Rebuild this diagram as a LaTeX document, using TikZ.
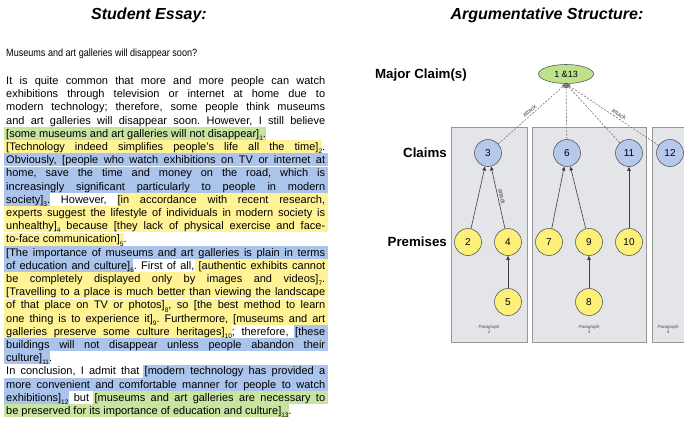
\documentclass[tikz,border=0pt]{standalone}
\usepackage{graphicx}
\usepackage{fontspec}
\setmainfont{Liberation Sans}
\usetikzlibrary{arrows.meta,shapes.geometric}
\frenchspacing
\definecolor{hlY}{RGB}{255,243,150}
\definecolor{hlB}{RGB}{170,196,236}
\definecolor{hlG}{RGB}{200,228,160}
\definecolor{boxfill}{RGB}{228,229,232}
\definecolor{boxline}{RGB}{150,150,150}
\definecolor{claimfill}{RGB}{182,200,235}
\definecolor{premfill}{RGB}{252,240,120}
\definecolor{mcfill}{RGB}{190,225,140}
\definecolor{nodeline}{RGB}{90,90,90}
\newcommand\sbx[1]{\raisebox{-0.3em}{\fontsize{6.5}{7}\selectfont #1}}
\newsavebox\jlbox
\newcommand\jl[1]{\sbox\jlbox{#1}\ifdim\wd\jlbox>319pt \resizebox{319pt}{\height}{\usebox\jlbox}\else\makebox[319pt][s]{#1}\fi}
\tikzset{
  essay/.style={anchor=base west, inner sep=0pt, font=\fontsize{11}{13}\selectfont\frenchspacing},
  essayq/.style={anchor=base west, inner sep=0pt, font=\fontsize{10.5}{12}\selectfont},
  titlelab/.style={font=\fontsize{16}{19}\selectfont\bfseries\itshape, inner sep=0pt},
  rowlab/.style={font=\fontsize{13.3}{15}\selectfont\bfseries, inner sep=0pt, anchor=east},
  claimnode/.style={circle, draw=nodeline, line width=0.6pt, fill=claimfill, minimum size=27pt, inner sep=0pt, font=\fontsize{10}{12}\selectfont},
  premnode/.style={circle, draw=nodeline, line width=0.6pt, fill=premfill, minimum size=27pt, inner sep=0pt, font=\fontsize{10}{12}\selectfont},
  mcnode/.style={ellipse, draw=nodeline, line width=0.6pt, fill=mcfill, minimum width=55pt, minimum height=19pt, inner sep=0pt, font=\fontsize{9}{11}\selectfont},
  parbox/.style={draw=boxline, fill=boxfill, line width=0.6pt},
  parlab/.style={font=\fontsize{4.5}{5}\selectfont\itshape, align=center, inner sep=0pt, text=black!70},
  supp/.style={draw=black!75, line width=0.6pt, -{Triangle[length=4pt,width=3.5pt]}},
  atk/.style={draw=black!55, line width=0.6pt, dash pattern=on 2pt off 1.5pt, -{Triangle[length=4pt,width=3.5pt]}},
  atklab/.style={font=\fontsize{6}{7}\selectfont, inner sep=1.5pt, text=black!70}
}
\begin{document}
\begin{tikzpicture}[x=1pt,y=-1pt]
\useasboundingbox (0,0) rectangle (684,424);
\fill[white] (0,0) rectangle (684,424);
% ---------- highlights ----------
\fill[hlG] (4,126.9) rectangle (266,139.9);
\fill[hlY] (4,140.1) rectangle (322,153.1);
\fill[hlB] (4,153.3) rectangle (328,166.3);
\fill[hlB] (4,166.5) rectangle (328,179.5);
\fill[hlB] (4,179.7) rectangle (328,192.7);
\fill[hlB] (4,192.9) rectangle (50,205.9);
\fill[hlY] (117,192.9) rectangle (328,205.9);
\fill[hlY] (4,206.1) rectangle (328,219.1);
\fill[hlY] (4,219.3) rectangle (328,232.3);
\fill[hlY] (4,232.5) rectangle (124,245.5);
\fill[hlB] (4,245.7) rectangle (328,258.7);
\fill[hlB] (4,258.9) rectangle (133,271.9);
\fill[hlY] (195,258.9) rectangle (328,271.9);
\fill[hlY] (4,272.1) rectangle (328,285.1);
\fill[hlY] (4,285.3) rectangle (328,298.3);
\fill[hlY] (4,298.5) rectangle (328,311.5);
\fill[hlY] (4,311.7) rectangle (328,324.7);
\fill[hlY] (4,324.9) rectangle (232,337.9);
\fill[hlB] (294,324.9) rectangle (328,337.9);
\fill[hlB] (4,338.1) rectangle (328,351.1);
\fill[hlB] (4,351.3) rectangle (50,364.3);
\fill[hlB] (143,364.5) rectangle (328,377.5);
\fill[hlB] (4,377.7) rectangle (328,390.7);
\fill[hlB] (4,390.9) rectangle (69,403.9);
\fill[hlG] (93,390.9) rectangle (328,403.9);
\fill[hlG] (4,404.1) rectangle (289,417.1);
% ---------- essay ----------
\node[titlelab] (t1) at (149,15) {Student Essay:};
\node[essayq] (l0) at (6,56.3) {\resizebox{191pt}{\height}{Museums and art galleries will disappear soon?}};
\node[essay] (l1) at (6,84.4) {\jl{It is quite common that more and more people can watch}};
\node[essay] (l2) at (6,97.6) {\jl{exhibitions through television or internet at home due to}};
\node[essay] (l3) at (6,110.8) {\jl{modern technology; therefore, some people think museums}};
\node[essay] (l4) at (6,124.0) {\jl{and art galleries will disappear soon. However, I still believe}};
\node[essay] (l5) at (6,137.2) {[some museums and art galleries will not disappear]\sbx{1}.};
\node[essay] (l6) at (6,150.4) {\jl{[Technology indeed simplifies people's life all the time]\sbx{2}.}};
\node[essay] (l7) at (6,163.6) {\jl{Obviously, [people who watch exhibitions on TV or internet at}};
\node[essay] (l8) at (6,176.8) {\jl{home, save the time and money on the road, which is}};
\node[essay] (l9) at (6,190.0) {\jl{increasingly significant particularly to people in modern}};
\node[essay] (l10) at (6,203.2) {\jl{society]\sbx{3}. However, [in accordance with recent research,}};
\node[essay] (l11) at (6,216.4) {\jl{experts suggest the lifestyle of individuals in modern society is}};
\node[essay] (l12) at (6,229.6) {\jl{unhealthy]\sbx{4} because [they lack of physical exercise and face-}};
\node[essay] (l13) at (6,242.8) {to-face communication]\sbx{5}.};
\node[essay] (l14) at (6,256.0) {\jl{[The importance of museums and art galleries is plain in terms}};
\node[essay] (l15) at (6,269.2) {\jl{of education and culture]\sbx{6}. First of all, [authentic exhibits cannot}};
\node[essay] (l16) at (6,282.4) {\jl{be completely displayed only by images and videos]\sbx{7}.}};
\node[essay] (l17) at (6,295.6) {\jl{[Travelling to a place is much better than viewing the landscape}};
\node[essay] (l18) at (6,308.8) {\jl{of that place on TV or photos]\sbx{8}, so [the best method to learn}};
\node[essay] (l19) at (6,322.0) {\jl{one thing is to experience it]\sbx{9}. Furthermore, [museums and art}};
\node[essay] (l20) at (6,335.2) {\jl{galleries preserve some culture heritages]\sbx{10}; therefore, [these}};
\node[essay] (l21) at (6,348.4) {\jl{buildings will not disappear unless people abandon their}};
\node[essay] (l22) at (6,361.6) {culture]\sbx{11}.};
\node[essay] (l23) at (6,374.8) {\jl{In conclusion, I admit that [modern technology has provided a}};
\node[essay] (l24) at (6,388.0) {\jl{more convenient and comfortable manner for people to watch}};
\node[essay] (l25) at (6,401.2) {\jl{exhibitions]\sbx{12} but [museums and art galleries are necessary to}};
\node[essay] (l26) at (6,414.4) {be preserved for its importance of education and culture]\sbx{13}.};
% ---------- structure ----------
\node[titlelab] (t2) at (547,15) {Argumentative Structure:};
\draw[parbox] (451,127) rectangle (527,342);
\draw[parbox] (532,127) rectangle (646,342);
\draw[parbox] (652,127) rectangle (700,342);
\node[parlab] (pg2) at (489,329) {Paragraph\\2};
\node[parlab] (pg3) at (589,329) {Paragraph\\3};
\node[parlab] (pg4) at (668,329) {Paragraph\\4};
\node[rowlab] (rmc) at (467,75) {Major Claim(s)};
\node[rowlab] (rcl) at (447,153) {Claims};
\node[rowlab] (rpr) at (447,242) {Premises};
\node[mcnode] (mc) at (566,74) {1 \&13};
\node[claimnode] (n3) at (488,153) {3};
\node[claimnode] (n6) at (567,153) {6};
\node[claimnode] (n11) at (629,153) {11};
\node[claimnode] (n12) at (670,153) {12};
\node[premnode] (n2) at (468,242) {2};
\node[premnode] (n4) at (508,242) {4};
\node[premnode] (n7) at (549,242) {7};
\node[premnode] (n9) at (589,242) {9};
\node[premnode] (n10) at (629,242) {10};
\node[premnode] (n5) at (508,302) {5};
\node[premnode] (n8) at (589,302) {8};
\draw[atk] (n3) -- node[atklab, pos=0.5, above, sloped] {attack} (mc.south);
\draw[atk] (n6) -- (mc.south);
\draw[atk] (n11) -- (mc.south);
\draw[atk] (n12) -- node[atklab, pos=0.45, above, sloped] {attack} (mc.south);
\draw[supp] (n2) -- (n3);
\draw[supp] (n4) -- node[atklab, midway, above, sloped] {attack} (n3);
\draw[supp] (n7) -- (n6);
\draw[supp] (n9) -- (n6);
\draw[supp] (n10) -- (n11);
\draw[supp] (n5) -- (n4);
\draw[supp] (n8) -- (n9);
\end{tikzpicture}
\end{document}
